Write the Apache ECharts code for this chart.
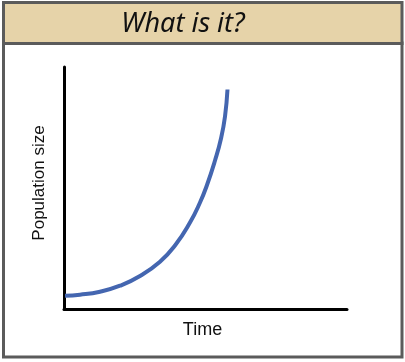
<!DOCTYPE html>
<html>
<head>
<meta charset="utf-8">
<script src="https://cdn.jsdelivr.net/npm/echarts@6/dist/echarts.min.js"></script>
<style>
html,body{margin:0;padding:0;background:#fff;}
#chart{width:405px;height:362px;}
</style>
</head>
<body>
<div id="chart"></div>
<script>
const chartTitle = "What is it?";
const xAxisName = "Time";
const yAxisName = "Population size";
const timeValues = [0.35, 5.65, 12.72, 19.79, 26.86, 33.92, 39.22, 44.52, 48.06, 50.53, 53.36, 55.48, 56.89, 57.77];
const populationValues = [5.50, 5.91, 7.15, 9.63, 13.64, 19.55, 26.24, 35.74, 44.01, 51.24, 61.36, 70.45, 79.55, 90.70];

const seriesData = timeValues.map((t, i) => [t, populationValues[i]]);

const chart = echarts.init(document.getElementById('chart'), null, {renderer: 'canvas'});
chart.setOption({
  animation: false,
  backgroundColor: '#ffffff',
  graphic: [
    {type: 'rect', z: 0, shape: {x: 3.5, y: 43, width: 398.5, height: 314}, style: {fill: '#ffffff', stroke: '#5b5b5b', lineWidth: 3}},
    {type: 'rect', z: 1, shape: {x: 3.5, y: 2.5, width: 398.5, height: 41}, style: {fill: '#e6d3a9', stroke: '#5b5b5b', lineWidth: 3}},
    {type: 'text', z: 2, x: 183, y: 24, style: {text: chartTitle, font: 'italic 27px "Noto Sans"', fill: '#111111', textAlign: 'center', textVerticalAlign: 'middle'}}
  ],
  grid: {left: 64, right: 58, top: 67, bottom: 53, containLabel: false},
  xAxis: {
    type: 'value', min: 0, max: 100,
    name: xAxisName, nameLocation: 'middle', nameGap: 12,
    nameTextStyle: {fontFamily: 'Liberation Sans', fontSize: 18, color: '#111111', padding: [0, 6, 0, 0]},
    axisLine: {show: true, lineStyle: {color: '#000000', width: 3}},
    axisTick: {show: false}, axisLabel: {show: false}, splitLine: {show: false}
  },
  yAxis: {
    type: 'value', min: 0, max: 100,
    name: yAxisName, nameLocation: 'middle', nameGap: 16,
    nameTextStyle: {fontFamily: 'Liberation Sans', fontSize: 17, color: '#111111', padding: [0, 0, 0, 10]},
    axisLine: {show: true, lineStyle: {color: '#000000', width: 3}},
    axisTick: {show: false}, axisLabel: {show: false}, splitLine: {show: false}
  },
  series: [{
    type: 'line', data: seriesData, smooth: 0.5, showSymbol: false,
    lineStyle: {color: '#4466b0', width: 4}
  }]
});
</script>
</body>
</html>
